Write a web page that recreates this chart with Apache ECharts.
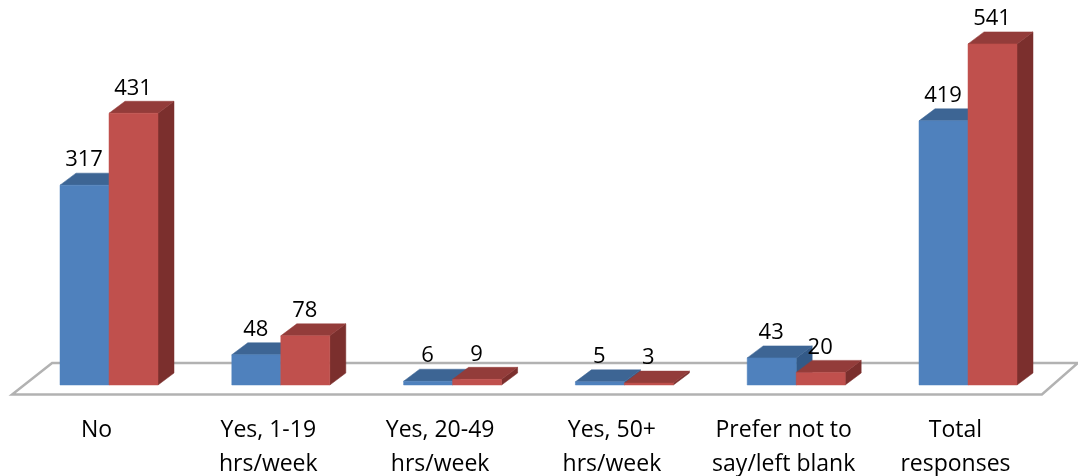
<!DOCTYPE html>
<html>
<head>
<meta charset="utf-8">
<style>html,body{margin:0;padding:0;background:#fff}#c{width:1078px;height:476px}</style>
<script src="https://cdn.jsdelivr.net/npm/echarts@6/dist/echarts.min.js"></script>
</head>
<body>
<div id="c"></div>
<script>
const categories = ['No', 'Yes, 1-19\nhrs/week', 'Yes, 20-49\nhrs/week', 'Yes, 50+\nhrs/week', 'Prefer not to\nsay/left blank', 'Total\nresponses'];
const blueValues = [317, 48, 6, 5, 43, 419];
const redValues = [431, 78, 9, 3, 20, 541];
const FONT = '"Open Sans"';
const BAR_RATIO = 49 / 171.8, DX = 16, DY = 12;

function poly(points, fill) {
  return { type: 'polygon', shape: { points }, style: { fill, stroke: fill, lineWidth: 0.5 } };
}
function barRenderer(offsetBars, front, top, side) {
  return function (params, api) {
    const i = api.value(0), v = api.value(1);
    const base = api.coord([i, 0]), head = api.coord([i, v]);
    const w = api.size([1, 0])[0] * BAR_RATIO;
    const x0 = base[0] + offsetBars * w, x1 = x0 + w, yb = base[1], yt = head[1];
    return {
      type: 'group',
      children: [
        poly([[x1, yb], [x1 + DX, yb - DY], [x1 + DX, yt - DY], [x1, yt]], side),
        poly([[x0, yt], [x0 + DX, yt - DY], [x1 + DX, yt - DY], [x1, yt]], top),
        poly([[x0, yb], [x1, yb], [x1, yt], [x0, yt]], front),
        { type: 'text', z2: 100, style: { text: String(v), x: (x0 + x1) / 2 - 0.5, y: yt - 25, align: 'center', verticalAlign: 'middle',
          font: '22px ' + FONT, fill: '#000' } }
      ]
    };
  };
}
function floorRenderer(params, api) {
  const c = params.coordSys, y = api.coord([0, 0])[1];
  const l = c.x, r = c.x + c.width;
  return {
    type: 'polygon',
    shape: { points: [[l - 11, y + 9.5], [r - 12, y + 9.5], [r + 24, y - 22], [l + 29, y - 22]] },
    style: { fill: '#fff', stroke: '#b2b2b2', lineWidth: 2.5 }
  };
}
const chart = echarts.init(document.getElementById('c'), null, { renderer: 'canvas' });
chart.setOption({
  animation: false,
  backgroundColor: '#fff',
  grid: { left: 23.1, width: 1030.8, top: 6.7, height: 378.3, outerBoundsMode: 'none', containLabel: false },
  xAxis: {
    type: 'category', data: categories,
    axisLine: { show: false }, axisTick: { show: false }, splitLine: { show: false },
    axisLabel: { interval: 0, fontFamily: 'Open Sans', fontSize: 23, color: '#000', lineHeight: 34, margin: 28, padding: [0, 25, 0, 0] }
  },
  yAxis: { type: 'value', min: 0, max: 600, show: false, splitLine: { show: false } },
  series: [
    { type: 'custom', name: 'floor', clip: false, z: 1, renderItem: floorRenderer, data: [[0, 0]], silent: true },
    { type: 'custom', name: 'Blue', clip: false, z: 2, renderItem: barRenderer(-1, '#4f81bd', '#3d6594', '#335a88'), data: blueValues.map((v, i) => [i, v]) },
    { type: 'custom', name: 'Red', clip: false, z: 3, renderItem: barRenderer(0, '#c0504d', '#933c3a', '#7b2f2d'), data: redValues.map((v, i) => [i, v]) }
  ]
});
</script>
</body>
</html>
